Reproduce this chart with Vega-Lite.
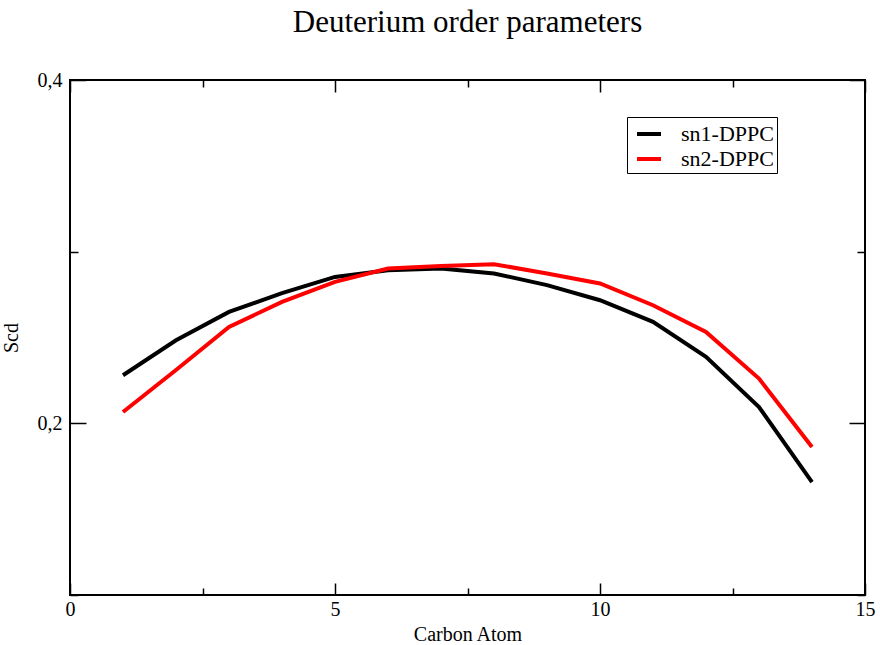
{
  "$schema": "https://vega.github.io/schema/vega-lite/v6.json",
  "width": 795,
  "height": 515,
  "autosize": "none",
  "padding": {"left": 70, "top": 80, "right": 15, "bottom": 50},
  "background": "white",
  "title": {"text": "Deuterium order parameters", "font": "Liberation Serif", "fontSize": 31, "fontWeight": "normal", "color": "black", "anchor": "middle", "offset": 31},
  "config": {
    "view": {"stroke": "black", "strokeWidth": 2},
    "axis": {"domain": false, "grid": false, "tickColor": "black", "tickWidth": 1.5, "labelFont": "Liberation Serif", "labelFontSize": 20, "labelColor": "black", "titleFont": "Liberation Serif", "titleFontSize": 20, "titleFontWeight": "normal", "titleColor": "black"},
    "legend": {"labelFont": "Liberation Serif", "labelFontSize": 22, "labelColor": "black"}
  },
  "data": {"values": [
    {"carbon": 1, "scd": 0.2280, "series": "sn1-DPPC"},
    {"carbon": 2, "scd": 0.2484, "series": "sn1-DPPC"},
    {"carbon": 3, "scd": 0.2649, "series": "sn1-DPPC"},
    {"carbon": 4, "scd": 0.2758, "series": "sn1-DPPC"},
    {"carbon": 5, "scd": 0.2853, "series": "sn1-DPPC"},
    {"carbon": 6, "scd": 0.2892, "series": "sn1-DPPC"},
    {"carbon": 7, "scd": 0.2902, "series": "sn1-DPPC"},
    {"carbon": 8, "scd": 0.2873, "series": "sn1-DPPC"},
    {"carbon": 9, "scd": 0.2805, "series": "sn1-DPPC"},
    {"carbon": 10, "scd": 0.2717, "series": "sn1-DPPC"},
    {"carbon": 11, "scd": 0.2591, "series": "sn1-DPPC"},
    {"carbon": 12, "scd": 0.2387, "series": "sn1-DPPC"},
    {"carbon": 13, "scd": 0.2095, "series": "sn1-DPPC"},
    {"carbon": 14, "scd": 0.1658, "series": "sn1-DPPC"},
    {"carbon": 1, "scd": 0.2066, "series": "sn2-DPPC"},
    {"carbon": 2, "scd": 0.2311, "series": "sn2-DPPC"},
    {"carbon": 3, "scd": 0.2562, "series": "sn2-DPPC"},
    {"carbon": 4, "scd": 0.2707, "series": "sn2-DPPC"},
    {"carbon": 5, "scd": 0.2824, "series": "sn2-DPPC"},
    {"carbon": 6, "scd": 0.2902, "series": "sn2-DPPC"},
    {"carbon": 7, "scd": 0.2917, "series": "sn2-DPPC"},
    {"carbon": 8, "scd": 0.2927, "series": "sn2-DPPC"},
    {"carbon": 9, "scd": 0.2873, "series": "sn2-DPPC"},
    {"carbon": 10, "scd": 0.2815, "series": "sn2-DPPC"},
    {"carbon": 11, "scd": 0.2688, "series": "sn2-DPPC"},
    {"carbon": 12, "scd": 0.2532, "series": "sn2-DPPC"},
    {"carbon": 13, "scd": 0.2261, "series": "sn2-DPPC"},
    {"carbon": 14, "scd": 0.1862, "series": "sn2-DPPC"}
  ]},
  "layer": [
    {
      "transform": [{"filter": "datum.series === 'sn1-DPPC'"}],
      "mark": {"type": "line", "strokeWidth": 4, "clip": true},
      "encoding": {
        "x": {"field": "carbon", "type": "quantitative", "scale": {"domain": [0, 15], "nice": false},
          "axis": {"orient": "bottom", "title": "Carbon Atom", "values": [0, 2.5, 5, 7.5, 10, 12.5, 15],
            "tickSize": {"condition": {"test": "datum.value % 5 === 0", "value": -12}, "value": -7},
            "labelExpr": "datum.value % 5 === 0 ? datum.label : ''", "labelPadding": 16, "titlePadding": 0, "labelFlush": false, "labelOverlap": false}},
        "y": {"field": "scd", "type": "quantitative", "scale": {"domain": [0.1, 0.4], "nice": false, "zero": false},
          "axis": {"orient": "left", "title": "Scd", "values": [0.1, 0.2, 0.3, 0.4],
            "tickSize": {"condition": {"test": "abs(datum.value - 0.2) < 0.01 || abs(datum.value - 0.4) < 0.01", "value": -16}, "value": -8},
            "labelExpr": "abs(datum.value - 0.2) < 0.01 ? '0,2' : abs(datum.value - 0.4) < 0.01 ? '0,4' : ''", "labelPadding": 24, "titlePadding": 16, "labelFlush": false, "labelOverlap": false}},
        "color": {"field": "series", "type": "nominal", "scale": {"domain": ["sn1-DPPC", "sn2-DPPC"], "range": ["#000000", "#ff0000"]},
          "legend": {"title": null, "orient": "none", "legendX": 557, "legendY": 37, "strokeColor": "black", "fillColor": "white", "padding": 3, "symbolType": "stroke", "symbolStrokeWidth": 4, "symbolSize": 576, "symbolOffset": 5, "labelFont": "Liberation Serif", "labelFontSize": 22, "labelColor": "black", "rowPadding": -2, "labelOffset": 18, "labelLimit": 200}}
      }
    },
    {
      "transform": [{"filter": "datum.series === 'sn2-DPPC'"}],
      "mark": {"type": "line", "strokeWidth": 4, "clip": true},
      "encoding": {
        "x": {"field": "carbon", "type": "quantitative",
          "axis": {"orient": "top", "title": null, "labels": false, "values": [0, 2.5, 5, 7.5, 10, 12.5, 15],
            "tickSize": {"condition": {"test": "datum.value % 5 === 0", "value": -12}, "value": -7}}},
        "y": {"field": "scd", "type": "quantitative",
          "axis": {"orient": "right", "title": null, "labels": false, "values": [0.1, 0.2, 0.3, 0.4],
            "tickSize": {"condition": {"test": "abs(datum.value - 0.2) < 0.01 || abs(datum.value - 0.4) < 0.01", "value": -16}, "value": -8}}},
        "color": {"field": "series", "type": "nominal"}
      }
    }
  ],
  "resolve": {"axis": {"x": "independent", "y": "independent"}}
}
